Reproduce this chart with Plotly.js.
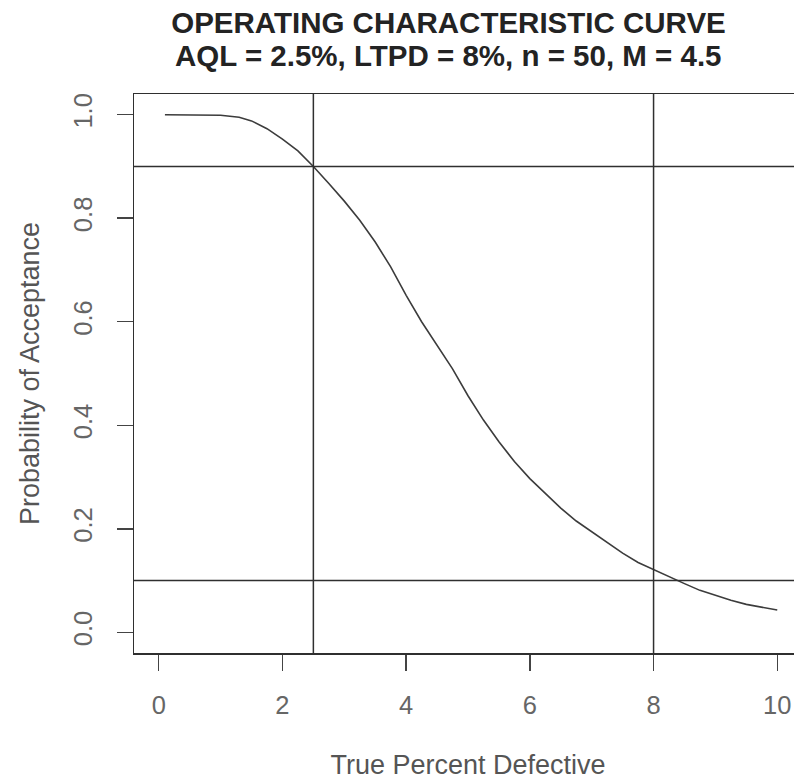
<!DOCTYPE html>
<html>
<head>
<meta charset="utf-8">
<script src="https://cdn.plot.ly/plotly-3.0.1.min.js"></script>
<style>
html, body { margin: 0; padding: 0; overflow: hidden; background: #fff; }
#chart { width: 810px; height: 780px; }
</style>
</head>
<body>
<div id="chart"></div>
<script>
// Data
const percentDefective = [0.1, 0.5, 1.0, 1.3, 1.5, 1.75, 2.0, 2.25, 2.5, 2.75, 3.0, 3.25, 3.5, 3.75, 4.0, 4.25, 4.5, 4.75, 5.0, 5.25, 5.5, 5.75, 6.0, 6.25, 6.5, 6.75, 7.0, 7.25, 7.5, 7.75, 8.0, 8.25, 8.5, 8.75, 9.0, 9.25, 9.5, 9.75, 10.0];
const probAccept = [1.000, 1.000, 0.999, 0.995, 0.988, 0.973, 0.953, 0.930, 0.900, 0.867, 0.833, 0.796, 0.754, 0.706, 0.651, 0.600, 0.554, 0.509, 0.457, 0.410, 0.368, 0.330, 0.297, 0.268, 0.240, 0.215, 0.194, 0.174, 0.153, 0.135, 0.121, 0.107, 0.094, 0.081, 0.071, 0.062, 0.054, 0.048, 0.043];
const refX = [2.5, 8];        // AQL, LTPD
const refY = [0.9, 0.1];      // producer / consumer risk levels
const xTicks = [0, 2, 4, 6, 8, 10];
const yTicks = [0, 0.2, 0.4, 0.6, 0.8, 1.0];
const yTickText = ["0.0", "0.2", "0.4", "0.6", "0.8", "1.0"];
const titleLine1 = "OPERATING CHARACTERISTIC CURVE";
const titleLine2 = "AQL = 2.5%, LTPD = 8%, n = 50, M = 4.5";

const FONT = "Liberation Sans, Arial, Helvetica, sans-serif";
const lineCol = "#2f2f2f";

const shapes = [];
refX.forEach(v => shapes.push({type: "line", xref: "x", yref: "paper", x0: v, x1: v, y0: 0, y1: 1,
  line: {color: lineCol, width: 1.5}}));
refY.forEach(v => shapes.push({type: "line", xref: "paper", yref: "y", x0: 0, x1: 1, y0: v, y1: v,
  line: {color: lineCol, width: 1.5}}));

const trace = {
  x: percentDefective, y: probAccept, type: "scatter", mode: "lines",
  line: {color: "#3c3c3c", width: 1.6}, hoverinfo: "skip", showlegend: false
};

const plotTop = 94, plotH = 559;
const layout = {
  width: 810, height: 780,
  margin: {l: 134, r: 8, t: plotTop, b: 127, pad: 0},
  paper_bgcolor: "#fff", plot_bgcolor: "#fff",
  title: {text: "<b>" + titleLine1 + "</b>", font: {family: FONT, size: 29.5, color: "#232323"},
    xref: "paper", x: 0.4708, xanchor: "center", yref: "container", y: 1 - 23/780, yanchor: "middle"},
  annotations: [{text: "<b>" + titleLine2 + "</b>", xref: "paper", yref: "paper",
    x: 0.4708, y: 1 + (plotTop - 55)/plotH, xanchor: "center", yanchor: "middle", showarrow: false,
    font: {family: FONT, size: 29.5, color: "#232323"}}],
  xaxis: {
    range: [-0.4, 10.4], tickvals: xTicks, ticktext: xTicks.map(String),
    ticks: "outside", ticklen: 16, tickwidth: 1.5, tickcolor: "#444",
    showline: true, mirror: true, linecolor: lineCol, linewidth: 1.5,
    showgrid: false, zeroline: false, ticklabelstandoff: 13,
    tickfont: {family: FONT, size: 25.5, color: "#666"},
    title: {text: "True Percent Defective", font: {family: FONT, size: 27, color: "#555"}, standoff: 45}
  },
  yaxis: {
    range: [-0.04, 1.04], tickvals: yTicks, ticktext: yTickText, tickangle: -90,
    ticks: "outside", ticklen: 16, tickwidth: 1.5, tickcolor: "#444",
    showline: true, mirror: true, linecolor: lineCol, linewidth: 1.5,
    showgrid: false, zeroline: false, ticklabelstandoff: 14,
    tickfont: {family: FONT, size: 25.5, color: "#666"},
    title: {text: "Probability of Acceptance", font: {family: FONT, size: 27, color: "#555"}, standoff: 22}
  },
  shapes: shapes
};

Plotly.newPlot("chart", [trace], layout, {displayModeBar: false, staticPlot: true});
</script>
</body>
</html>
